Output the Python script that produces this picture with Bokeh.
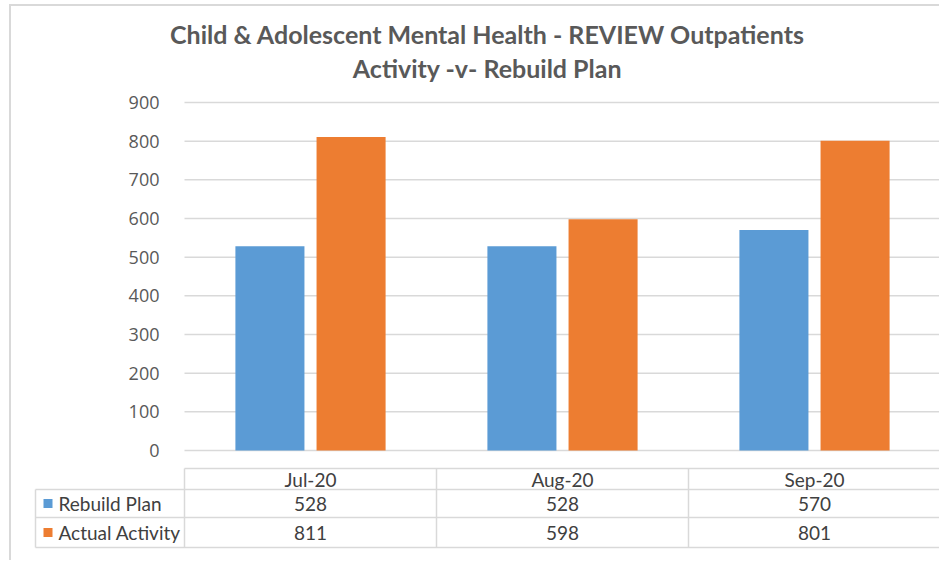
from bokeh.plotting import figure
from bokeh.models import Range1d, FixedTicker, Title, ColumnDataSource, LinearAxis
from bokeh.core.properties import value
from bokeh.embed import file_html
from bokeh.resources import INLINE
import numpy as np

# ---- data ----
months = ["Jul-20", "Aug-20", "Sep-20"]
series_names = ["Rebuild Plan", "Actual Activity"]
rebuild_plan = [528, 528, 570]
actual_activity = [811, 598, 801]
y_ticks = [0, 100, 200, 300, 400, 500, 600, 700, 800, 900]
title_line1 = "Child & Adolescent Mental Health - REVIEW Outpatients"
title_line2 = "Activity -v- Rebuild Plan"

# ---- styles ----
BLUE = "#5B9BD5"
ORANGE = "#ED7D31"
GRID = "#D9D9D9"
TXT = "#595959"
TBL_TXT = "#404040"
FONT = "Lato"

n = len(months)
centers = np.arange(n) + 0.5
offset = 0.161
bar_w = 0.274
PX = 252.0            # pixels per category
L = 149 / PX          # label column width (category units)
x0 = -L - 2 / PX

OX, OY = 11, 6        # canvas origin inside the page (after margin + border)
W, H = 941 - OX, 562 - OY
BL, BT = 33 - OX, 88 - OY
fr_w = W - BL
fr_h = H - BT
vpp = 900 / 348.0     # value units per pixel
y_top = 900 + (102 - 88) * vpp
y_bot = y_top - fr_h * vpp

p = figure(width=W, height=H, output_backend="svg", toolbar_location=None,
           x_range=Range1d(x0, x0 + fr_w / PX), y_range=Range1d(y_bot, y_top),
           x_axis_location=None, y_axis_location=None,
           min_border_left=BL, min_border_right=0,
           min_border_top=BT, min_border_bottom=0)
p.margin = (4, 0, 0, 9)
p.styles = {"border-left": "2px solid #D9D9D9", "border-top": "2px solid #D9D9D9"}
p.outline_line_color = None
p.grid.grid_line_color = None

# table: vertical units are pixels downward from the header top
row_h = [21, 28, 30]
hdr_top = 468 - 88
p.extra_y_ranges = {"tbl": Range1d(start=fr_h - hdr_top, end=-hdr_top)}
bounds = list(np.concatenate([[0], np.cumsum(row_h)]))
mids = [(bounds[i] + bounds[i + 1]) / 2 for i in range(len(row_h))]

# y axis fixed at the category area's left edge
yax = LinearAxis(fixed_location=0, ticker=FixedTicker(ticks=y_ticks))
yax.axis_line_color = None
yax.major_tick_line_color = None
yax.minor_tick_line_color = None
yax.major_label_standoff = 19
yax.major_label_text_font = "Open Sans"
yax.major_label_text_font_size = "18px"
yax.major_label_text_color = TXT
p.add_layout(yax, "left")

# gridlines over the category area only
p.segment(x0=[0] * len(y_ticks), x1=[n] * len(y_ticks), y0=y_ticks, y1=y_ticks,
          line_color=GRID, line_width=1.5)

src = ColumnDataSource(dict(xp=centers - offset, xa=centers + offset,
                            plan=rebuild_plan, act=actual_activity))
p.vbar(x="xp", top="plan", bottom=0, width=bar_w, source=src,
       fill_color=BLUE, line_color=None)
p.vbar(x="xa", top="act", bottom=0, width=bar_w, source=src,
       fill_color=ORANGE, line_color=None)

t2 = Title(text=title_line2, align="center", text_font=FONT, text_font_size="25px",
           text_font_style="bold", text_color=TXT, standoff=8, vertical_align="top")
t1 = Title(text=title_line1, align="center", text_font=FONT, text_font_size="25px",
           text_font_style="bold", text_color=TXT, standoff=0)
p.add_layout(t2, "above")
p.add_layout(t1, "above")

# ---- data table ----
nrows = len(series_names) + 1
hx0 = [0] + [-L] * nrows
hx1 = [n] * (nrows + 1)
p.segment(x0=hx0, y0=bounds, x1=hx1, y1=bounds, line_color=GRID, line_width=1.5,
          y_range_name="tbl")
vx = [-L] + list(range(n + 1))
vy0 = [bounds[1]] + [0] * (n + 1)
vy1 = [bounds[-1]] * (n + 2)
p.segment(x0=vx, y0=vy0, x1=vx, y1=vy1, line_color=GRID, line_width=1.5, y_range_name="tbl")

p.text(x=list(centers), y=[mids[0]] * n, text=months, text_align="center", text_baseline="middle",
       text_font=value(FONT), text_font_size="19px", text_color=TBL_TXT, y_range_name="tbl")
for i, vals in enumerate([rebuild_plan, actual_activity]):
    p.text(x=list(centers), y=[mids[i + 1]] * n, text=[str(v) for v in vals],
           text_align="center", text_baseline="middle",
           text_font=value(FONT), text_font_size="19px", text_color=TBL_TXT, y_range_name="tbl")
p.rect(x=[-L + 12.5 / PX] * 2, y=mids[1:], width=9, height=9,
       width_units="screen", height_units="screen",
       fill_color=[BLUE, ORANGE], line_color=None, y_range_name="tbl")
p.text(x=[-L + 23 / PX] * 2, y=mids[1:], text=series_names,
       text_align="left", text_baseline="middle",
       text_font=value(FONT), text_font_size="19px", text_color=TBL_TXT, y_range_name="tbl")

open("out.html", "w").write(file_html(p, INLINE))
